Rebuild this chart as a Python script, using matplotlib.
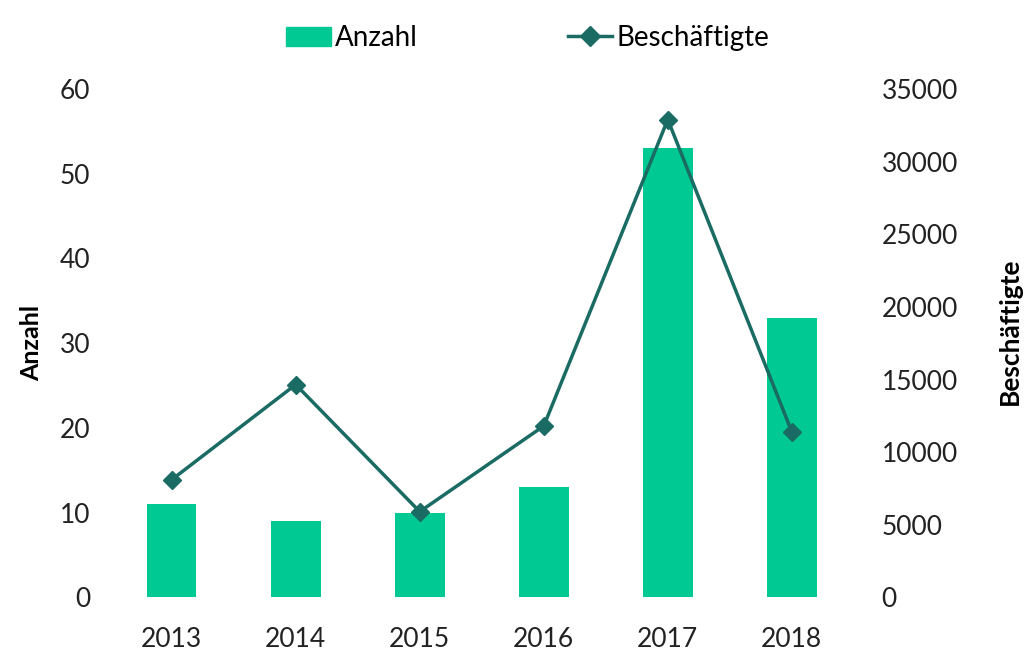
import matplotlib.pyplot as plt
from matplotlib.lines import Line2D
from matplotlib.patches import Patch
import numpy as np

plt.rcParams['font.family'] = ['Lato', 'DejaVu Sans']

jahre = ['2013', '2014', '2015', '2016', '2017', '2018']
anzahl = [11, 9, 10, 13, 53, 33]
beschaeftigte = [8100, 14650, 5900, 11800, 32900, 11400]

bar_col = '#00C994'
line_col = '#1A6B63'

fig = plt.figure(figsize=(10.25, 6.5), dpi=100)
ax = fig.add_axes([0.107, 0.081, 0.726, 0.782])
x = np.arange(len(jahre))

ax.bar(x, anzahl, width=0.4, color=bar_col, zorder=1)
ax.set_ylim(0, 60)
ax.set_yticks(range(0, 61, 10))
ax.set_xlim(-0.5, len(jahre) - 0.5)
ax.set_xticks(x)
ax.set_xticklabels(jahre)
ax.set_ylabel('Anzahl', fontsize=18, fontweight='bold', labelpad=12)

ax2 = ax.twinx()
ax2.plot(x, beschaeftigte, color=line_col, linewidth=2.5, marker='D', markersize=9, zorder=3)
ax2.set_ylim(0, 35000)
ax2.set_yticks(range(0, 35001, 5000))
fig.text(0.985, 0.49, 'Beschäftigte', fontsize=19, fontweight='bold', rotation=90,
         ha='center', va='center')

for a in (ax, ax2):
    for s in a.spines.values():
        s.set_visible(False)
    a.tick_params(length=0, labelsize=19, colors='#222222', pad=14)
ax2.tick_params(axis='y', pad=20)
ax.tick_params(axis='x', pad=21)

handles = [Patch(color=bar_col),
           Line2D([0], [0], color=line_col, linewidth=2.5, marker='D', markersize=10)]
fig.legend(handles, ['Anzahl', 'Beschäftigte'], loc='upper center', bbox_to_anchor=(0.515, 1.0),
           ncol=2, frameon=False, fontsize=20, columnspacing=5.4, handlelength=1.6, handletextpad=0.15)

fig.savefig('out.png', dpi=100)
